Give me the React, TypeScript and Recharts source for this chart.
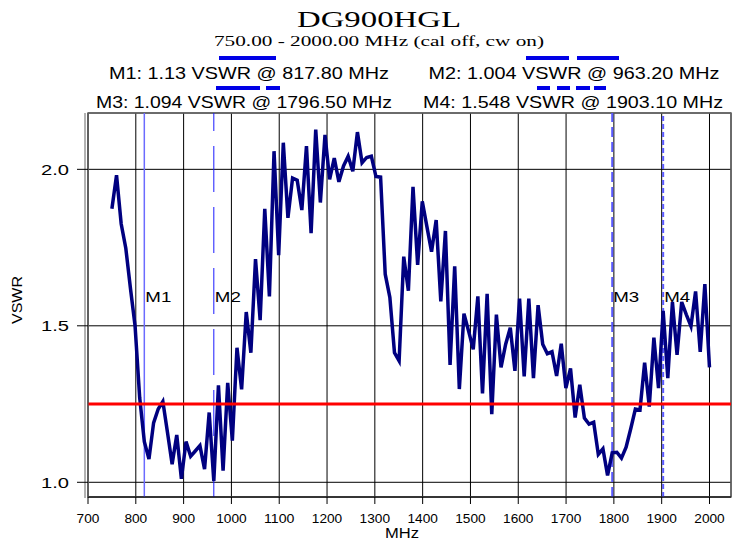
import React from 'react';
import {
  LineChart,
  Line,
  XAxis,
  YAxis,
  CartesianGrid,
  ReferenceLine,
  ReferenceArea,
  Customized,
} from 'recharts';

// ---------- data ----------
const FREQS_MHZ = [
  750.0, 759.69, 769.38, 779.07, 788.76, 798.45, 808.14, 817.83, 827.52, 837.21,
  846.9, 856.59, 866.28, 875.97, 885.66, 895.35, 905.04, 914.73, 924.42, 934.11,
  943.8, 953.49, 963.18, 972.87, 982.56, 992.25, 1001.94, 1011.63, 1021.32, 1031.01,
  1040.7, 1050.39, 1060.08, 1069.77, 1079.46, 1089.15, 1098.84, 1108.53, 1118.22, 1127.91,
  1137.6, 1147.29, 1156.98, 1166.67, 1176.36, 1186.05, 1195.74, 1205.43, 1215.12, 1224.81,
  1234.5, 1244.19, 1253.88, 1263.57, 1273.26, 1282.95, 1292.64, 1302.33, 1312.02, 1321.71,
  1331.4, 1341.09, 1350.78, 1360.47, 1370.16, 1379.84, 1389.53, 1399.22, 1408.91, 1418.6,
  1428.29, 1437.98, 1447.67, 1457.36, 1467.05, 1476.74, 1486.43, 1496.12, 1505.81, 1515.5,
  1525.19, 1534.88, 1544.57, 1554.26, 1563.95, 1573.64, 1583.33, 1593.02, 1602.71, 1612.4,
  1622.09, 1631.78, 1641.47, 1651.16, 1660.85, 1670.54, 1680.23, 1689.92, 1699.61, 1709.3,
  1718.99, 1728.68, 1738.37, 1748.06, 1757.75, 1767.44, 1777.13, 1786.82, 1796.51, 1806.2,
  1815.89, 1825.58, 1835.27, 1844.96, 1854.65, 1864.34, 1874.03, 1883.72, 1893.41, 1903.1,
  1912.79, 1922.48, 1932.17, 1941.86, 1951.55, 1961.24, 1970.93, 1980.62, 1990.31, 2000.0,
];

const VSWR = [
  1.874, 1.981, 1.826, 1.748, 1.62, 1.5, 1.27, 1.13, 1.074, 1.19,
  1.234, 1.258, 1.159, 1.058, 1.151, 1.011, 1.13, 1.083, 1.1, 1.117,
  1.042, 1.223, 1.004, 1.31, 1.037, 1.318, 1.133, 1.43, 1.297, 1.544,
  1.414, 1.713, 1.518, 1.874, 1.594, 2.058, 1.726, 2.085, 1.845, 1.972,
  1.965, 1.87, 2.074, 1.796, 2.127, 1.894, 2.11, 1.968, 2.036, 1.96,
  2.011, 2.042, 1.994, 2.119, 2.021, 2.038, 2.042, 1.977, 1.975, 1.665,
  1.591, 1.414, 1.388, 1.721, 1.612, 1.944, 1.695, 1.898, 1.817, 1.737,
  1.838, 1.578, 1.803, 1.375, 1.69, 1.298, 1.539, 1.483, 1.425, 1.594,
  1.284, 1.602, 1.218, 1.536, 1.367, 1.441, 1.494, 1.356, 1.587, 1.338,
  1.587, 1.333, 1.566, 1.441, 1.411, 1.417, 1.34, 1.443, 1.301, 1.364,
  1.207, 1.312, 1.205, 1.186, 1.192, 1.089, 1.107, 1.022, 1.094, 1.096,
  1.077, 1.112, 1.171, 1.234, 1.231, 1.382, 1.242, 1.462, 1.301, 1.548,
  1.333, 1.576, 1.407, 1.576, 1.536, 1.499, 1.61, 1.417, 1.633, 1.367,
];

const X_TICKS = [700, 800, 900, 1000, 1100, 1200, 1300, 1400, 1500, 1600, 1700, 1800, 1900, 2000];
const X_MINOR_TICKS = [
  720, 740, 760, 780, 820, 840, 860, 880, 920, 940, 960, 980, 1020, 1040, 1060, 1080,
  1120, 1140, 1160, 1180, 1220, 1240, 1260, 1280, 1320, 1340, 1360, 1380, 1420, 1440,
  1460, 1480, 1520, 1540, 1560, 1580, 1620, 1640, 1660, 1680, 1720, 1740, 1760, 1780,
  1820, 1840, 1860, 1880, 1920, 1940, 1960, 1980, 2020, 2040,
];
const Y_TICKS = [1.0, 1.5, 2.0];
const Y_MINOR_TICKS = [1.1, 1.2, 1.3, 1.4, 1.6, 1.7, 1.8, 1.9, 2.1];

const X_DOMAIN: [number, number] = [700, 2045];
const Y_DOMAIN: [number, number] = [0.953, 2.18];

const MARKER_NAMES = ['M1', 'M2', 'M3', 'M4'];
const MARKER_FREQS = [817.8, 963.2, 1796.5, 1903.1];
const MARKER_VSWR = [1.13, 1.004, 1.094, 1.548];

const LIMIT_VSWR = 1.25;

const TITLE = 'DG900HGL';
const SUBTITLE = '750.00 - 2000.00 MHz (cal off, cw on)';
const X_LABEL = 'MHz';
const Y_LABEL = 'VSWR';

// ---------- styles / layout ----------
const SANS = '"Liberation Sans", Arial, sans-serif';
const SERIF = '"Liberation Serif", "Times New Roman", serif';

const MARKER_STYLES = [
  { stroke: '#6b6bff', width: 1.5, dash: undefined as string | undefined },
  { stroke: '#1a1aff', width: 1, dash: '46 15' },
  { stroke: '#5a5aff', width: 2, dash: '10 5' },
  { stroke: '#5a5aff', width: 2, dash: '5 3' },
];

const LEGEND_LAYOUT = [
  { cx: 249, cy: 73, w: 280, by: 58, bars: [[219, 276]] },
  { cx: 574, cy: 73, w: 291, by: 58, bars: [[526, 569], [577, 619]] },
  { cx: 244, cy: 102, w: 296, by: 88, bars: [[216, 260], [266, 280]] },
  { cx: 573, cy: 102, w: 300, by: 88, bars: [[537, 550], [557, 570], [576, 590], [594, 606]] },
];

const data = FREQS_MHZ.map((f, i) => ({ f, v: VSWR[i] }));

const XTick = (props: any) => {
  const { x, y, payload } = props;
  const s = String(payload.value);
  return (
    <text
      x={x}
      y={y + 19}
      textAnchor="middle"
      fontSize={12.5}
      fontFamily={SANS}
      fill="#000"
      textLength={s.length * 7.6}
      lengthAdjust="spacingAndGlyphs"
    >
      {s}
    </text>
  );
};

const YTick = (props: any) => {
  const { x, y, payload } = props;
  return (
    <text
      x={x}
      y={y + 5.5}
      textAnchor="end"
      fontSize={15}
      fontFamily={SANS}
      fill="#000"
      textLength={28}
      lengthAdjust="spacingAndGlyphs"
    >
      {Number(payload.value).toFixed(1)}
    </text>
  );
};

const NoTick = () => null;

const Overlay = () => (
  <g>
    <text
      x={379}
      y={27}
      textAnchor="middle"
      fontSize={24}
      fontFamily={SERIF}
      fill="#000"
      textLength={164}
      lengthAdjust="spacingAndGlyphs"
    >
      {TITLE}
    </text>
    <text
      x={379}
      y={46}
      textAnchor="middle"
      fontSize={15}
      fontFamily={SERIF}
      fill="#000"
      textLength={330}
      lengthAdjust="spacingAndGlyphs"
    >
      {SUBTITLE}
    </text>
    {MARKER_NAMES.map((name, i) => {
      const L = LEGEND_LAYOUT[i];
      return (
        <g key={name}>
          {L.bars.map(([a, b], j) => (
            <line key={j} x1={a} x2={b} y1={L.by} y2={L.by} stroke="#0000e6" strokeWidth={4} />
          ))}
          <text
            x={L.cx}
            y={L.cy + 6}
            textAnchor="middle"
            fontSize={17}
            fontFamily={SANS}
            fill="#000"
            textLength={L.w}
            lengthAdjust="spacingAndGlyphs"
          >
            {`${name}: ${MARKER_VSWR[i]} VSWR @ ${MARKER_FREQS[i].toFixed(2)} MHz`}
          </text>
        </g>
      );
    })}
    <text
      x={402}
      y={538}
      textAnchor="middle"
      fontSize={14}
      fontFamily={SANS}
      fill="#000"
      textLength={34}
      lengthAdjust="spacingAndGlyphs"
    >
      {X_LABEL}
    </text>
    <text
      x={16}
      y={300}
      transform="rotate(-90 16 300)"
      textAnchor="middle"
      dominantBaseline="central"
      fontSize={15}
      fontFamily={SANS}
      fill="#000"
      textLength={48}
      lengthAdjust="spacingAndGlyphs"
    >
      {Y_LABEL}
    </text>
    <line x1={85} x2={85} y1={113} y2={498} stroke="#666" strokeWidth={1} />
  </g>
);

export default function App() {
  return (
    <div style={{ position: 'absolute', left: 0, top: 0, width: 733, height: 541, background: '#fff' }}>
      <LineChart width={733} height={541} data={data} margin={{ top: 113, right: 2, left: 28, bottom: 0 }}>
        <XAxis
          xAxisId="minor"
          type="number"
          dataKey="f"
          domain={X_DOMAIN}
          ticks={X_MINOR_TICKS}
          allowDataOverflow
          interval={0}
          mirror
          height={0}
          tickSize={6}
          tick={<NoTick />}
          tickLine={{ stroke: '#000' }}
          axisLine={false}
        />
        <YAxis
          yAxisId="minor"
          type="number"
          domain={Y_DOMAIN}
          ticks={Y_MINOR_TICKS}
          allowDataOverflow
          interval={0}
          mirror
          width={0}
          tickSize={7}
          tick={<NoTick />}
          tickLine={{ stroke: '#000' }}
          axisLine={false}
        />
        <XAxis
          type="number"
          dataKey="f"
          domain={X_DOMAIN}
          ticks={X_TICKS}
          allowDataOverflow
          interval={0}
          height={44}
          tickSize={7}
          tickMargin={0}
          tick={<XTick />}
          tickLine={{ stroke: '#000' }}
          axisLine={{ stroke: '#000' }}
        />
        <YAxis
          type="number"
          domain={Y_DOMAIN}
          ticks={Y_TICKS}
          allowDataOverflow
          interval={0}
          width={60}
          tickSize={11}
          tickMargin={8}
          tick={<YTick />}
          tickLine={{ stroke: '#000' }}
          axisLine={{ stroke: '#555' }}
        />
        <CartesianGrid stroke="#000" strokeWidth={1} />
        <ReferenceArea
          x1={X_DOMAIN[0]}
          x2={X_DOMAIN[1]}
          y1={Y_DOMAIN[0]}
          y2={Y_DOMAIN[1]}
          fill="none"
          fillOpacity={0}
          stroke="#666"
          strokeWidth={1.5}
        />
        {MARKER_NAMES.map((name, i) => (
          <ReferenceLine
            key={name}
            x={MARKER_FREQS[i]}
            stroke={MARKER_STYLES[i].stroke}
            strokeWidth={MARKER_STYLES[i].width}
            strokeDasharray={MARKER_STYLES[i].dash}
            label={(p: any) => (
              <text
                x={(p.viewBox?.x ?? 0) + 1}
                y={302}
                fontSize={15}
                fontFamily={SANS}
                fill="#000"
                textLength={26}
                lengthAdjust="spacingAndGlyphs"
              >
                {name}
              </text>
            )}
          />
        ))}
        <Line
          type="linear"
          dataKey="v"
          stroke="#000080"
          strokeWidth={3.5}
          dot={false}
          activeDot={false}
          isAnimationActive={false}
        />
        <ReferenceLine y={LIMIT_VSWR} stroke="#ff0000" strokeWidth={3} />
        <Customized component={<Overlay />} />
      </LineChart>
    </div>
  );
}
